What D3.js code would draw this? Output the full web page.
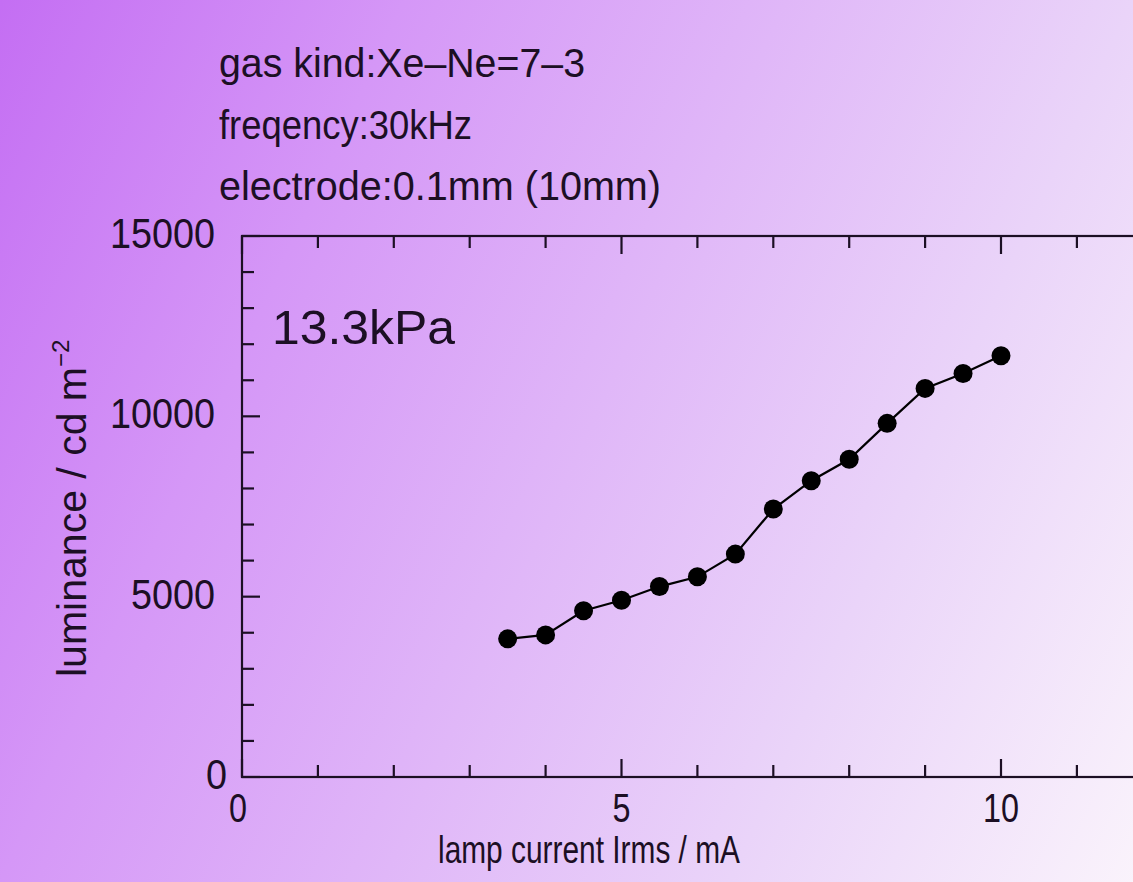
<!DOCTYPE html>
<html>
<head>
<meta charset="utf-8">
<script src="https://cdn.jsdelivr.net/npm/d3@7"></script>
<style>
  html, body { margin: 0; padding: 0; overflow: hidden; }
  svg { display: block; }
</style>
</head>
<body>
<div id="chart"></div>
<script>
// Data
const currentMA = [3.5, 4, 4.5, 5, 5.5, 6, 6.5, 7, 7.5, 8, 8.5, 9, 9.5, 10];
const luminance = [3830, 3940, 4610, 4900, 5280, 5550, 6180, 7430, 8215, 8810, 9805, 10775, 11190, 11680];
const xTicks = [0, 5, 10];
const yTicks = [0, 5000, 10000, 15000];
const infoLines = ["gas kind:Xe\u2013Ne=7\u20133", "freqency:30kHz", "electrode:0.1mm (10mm)"];
const infoWidths = [366, 253, 442];
const pressureLabel = "13.3kPa";

const width = 1133, height = 882;
const font = "'Liberation Sans', Arial, sans-serif";
const ink = "#1c0f24";

const svg = d3.select("#chart").append("svg")
  .attr("width", width)
  .attr("height", height);

// Background gradient (lightens mostly to the right, a little downwards)
const grad = svg.append("defs").append("linearGradient")
  .attr("id", "bg")
  .attr("gradientUnits", "userSpaceOnUse")
  .attr("x1", 0).attr("y1", 0).attr("x2", 1338).attr("y2", 613);
grad.append("stop").attr("offset", 0).attr("stop-color", "#c46ef3");
grad.append("stop").attr("offset", 0.25).attr("stop-color", "#d597f7");
grad.append("stop").attr("offset", 0.7).attr("stop-color", "#ead4f9");
grad.append("stop").attr("offset", 1).attr("stop-color", "#fdf9fc");
svg.append("rect").attr("width", width).attr("height", height).attr("fill", "url(#bg)");

// Scales
const x = d3.scaleLinear().domain([0, 12]).range([242, 242 + 12 * 75.9]);
const y = d3.scaleLinear().domain([0, 15000]).range([777, 236]);

const plot = svg.append("g");

// Frame
plot.append("rect")
  .attr("x", x(0)).attr("y", y(15000))
  .attr("width", x(12) - x(0)).attr("height", y(0) - y(15000))
  .attr("fill", "none").attr("stroke", ink).attr("stroke-width", 2.2);

// Ticks (inward, on all sides)
const xMinor = d3.range(0, 12.001, 1);
const yMinor = d3.range(0, 15001, 1000);
const tickLen = v => (v % 5 === 0 ? 18 : 12);
const yTickLen = v => (v % 5000 === 0 ? 18 : 12);

const tg = plot.append("g").attr("stroke", ink).attr("stroke-width", 2.2);
xMinor.forEach(v => {
  tg.append("line").attr("x1", x(v)).attr("x2", x(v))
    .attr("y1", y(0)).attr("y2", y(0) - tickLen(v));
  tg.append("line").attr("x1", x(v)).attr("x2", x(v))
    .attr("y1", y(15000)).attr("y2", y(15000) + tickLen(v));
});
yMinor.forEach(v => {
  tg.append("line").attr("x1", x(0)).attr("x2", x(0) + yTickLen(v))
    .attr("y1", y(v)).attr("y2", y(v));
  tg.append("line").attr("x1", x(12)).attr("x2", x(12) - yTickLen(v))
    .attr("y1", y(v)).attr("y2", y(v));
});

// Tick labels
plot.append("g").selectAll("text")
  .data(xTicks).join("text")
  .attr("x", d => x(d) - (d === 0 ? 4 : 0))
  .attr("y", y(0) + 45)
  .attr("text-anchor", "middle")
  .attr("font-family", font).attr("font-size", 40).attr("fill", ink)
  .attr("textLength", d => String(d).length * 18)
  .attr("lengthAdjust", "spacingAndGlyphs")
  .text(d => d);

plot.append("g").selectAll("text")
  .data(yTicks).join("text")
  .attr("x", d => x(0) - (d === 0 ? 15 : 27))
  .attr("y", d => y(d) + 12)
  .attr("text-anchor", "end")
  .attr("font-family", font).attr("font-size", 42).attr("fill", ink)
  .attr("textLength", d => String(d).length * 21)
  .attr("lengthAdjust", "spacingAndGlyphs")
  .text(d => d);

// Line and markers
const line = d3.line()
  .x((d, i) => x(currentMA[i]))
  .y(d => y(d));

plot.append("path")
  .datum(luminance)
  .attr("d", line)
  .attr("fill", "none")
  .attr("stroke", "#000")
  .attr("stroke-width", 2.2);

plot.append("g").selectAll("circle")
  .data(luminance).join("circle")
  .attr("cx", (d, i) => x(currentMA[i]))
  .attr("cy", d => y(d))
  .attr("r", 9.5)
  .attr("fill", "#000");

// Axis titles
svg.append("text")
  .attr("x", 589).attr("y", 863)
  .attr("text-anchor", "middle")
  .attr("font-family", font).attr("font-size", 39).attr("fill", ink)
  .attr("textLength", 302).attr("lengthAdjust", "spacingAndGlyphs")
  .text("lamp current Irms / mA");

const yTitle = svg.append("text")
  .attr("transform", "translate(86,677) rotate(-90)")
  .attr("font-family", font).attr("font-size", 40).attr("fill", ink);
yTitle.append("tspan")
  .attr("textLength", 310).attr("lengthAdjust", "spacingAndGlyphs")
  .text("luminance / cd m");
yTitle.append("tspan").attr("dy", -17).attr("font-size", 24).text("\u22122");

// Annotations
svg.append("text")
  .attr("x", 272).attr("y", 344)
  .attr("font-family", font).attr("font-size", 49).attr("fill", ink)
  .attr("textLength", 183).attr("lengthAdjust", "spacingAndGlyphs")
  .text(pressureLabel);

svg.append("g").selectAll("text")
  .data(infoLines).join("text")
  .attr("x", 219)
  .attr("y", (d, i) => 77 + i * 61.5)
  .attr("font-family", font).attr("font-size", 40).attr("fill", ink)
  .attr("textLength", (d, i) => infoWidths[i])
  .attr("lengthAdjust", "spacingAndGlyphs")
  .text(d => d);
</script>
</body>
</html>
